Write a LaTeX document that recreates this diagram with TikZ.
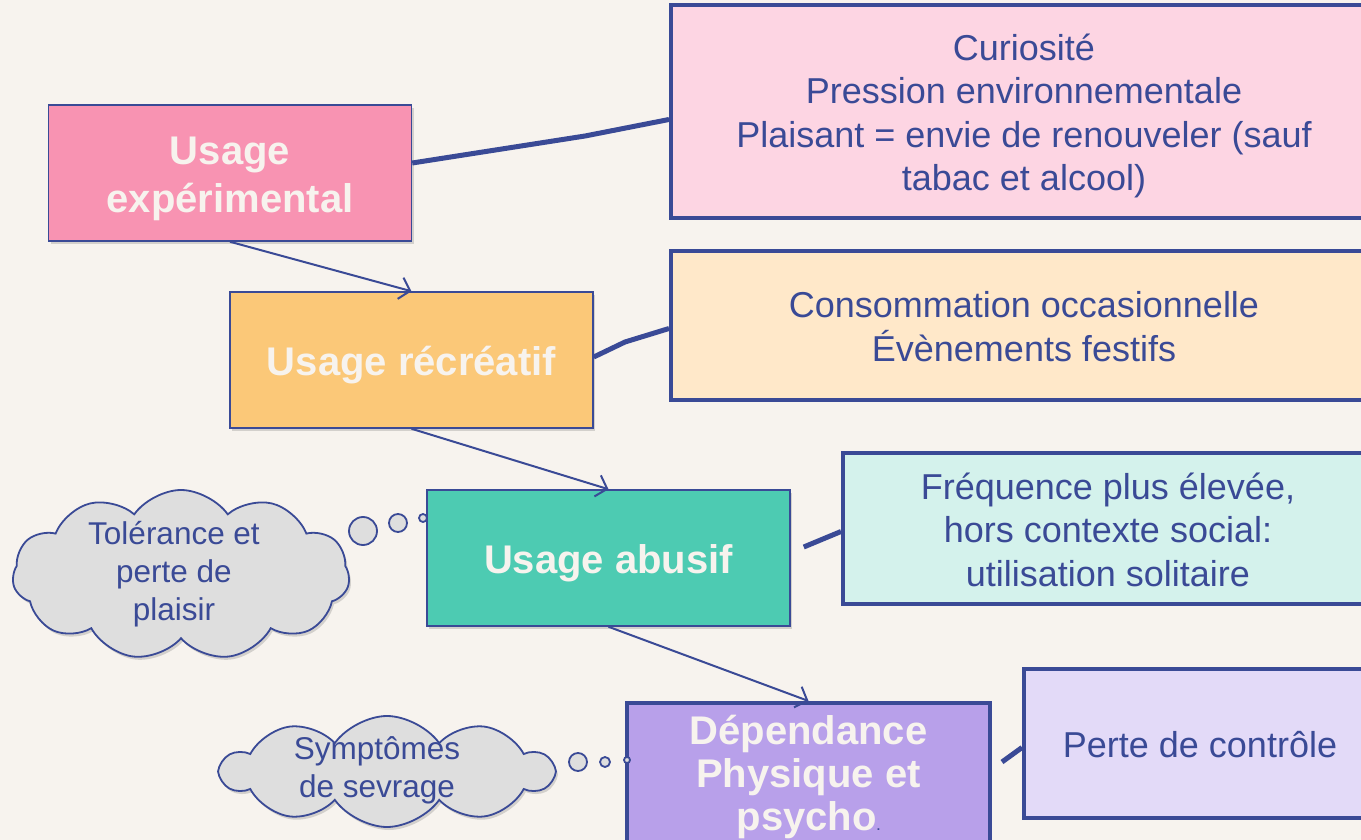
\documentclass[tikz,border=0pt]{standalone}
\usepackage{fontspec}
\setmainfont{Liberation Sans}
\usetikzlibrary{shapes.symbols,arrows.meta,shadows}

\definecolor{bgcol}{HTML}{F7F3EE}
\definecolor{ink}{HTML}{3A4A96}
\definecolor{pinkbox}{HTML}{F893B2}
\definecolor{pinknote}{HTML}{FDD5E3}
\definecolor{orangebox}{HTML}{FBC878}
\definecolor{orangenote}{HTML}{FFE8C9}
\definecolor{tealbox}{HTML}{4DCBB2}
\definecolor{tealnote}{HTML}{D4F2EC}
\definecolor{purplebox}{HTML}{B8A0EA}
\definecolor{purplenote}{HTML}{E3DAF8}
\definecolor{cloudgray}{HTML}{DEDEDE}

% lines of a box, set a little low as in a slide
\newcommand{\boxlines}[1]{\raisebox{0pt}[\dimexpr\height+11pt\relax][\depth]{%
	\begin{tabular}{@{}c@{}}#1\end{tabular}}}
% lines of a cloud, taking no room so the cloud keeps its own size
\newcommand{\cloudlines}[2][0pt]{\raisebox{-6pt}[0pt][0pt]{\makebox[0pt]{%
	\hspace*{#1}\begin{tabular}{@{}c@{}}#2\end{tabular}}}}

\begin{document}
\begin{tikzpicture}
	[x=1pt, y=-1pt,
	stagebox/.style={draw=ink, line width=1.5pt, rectangle, inner sep=0pt,
		minimum width=363pt, minimum height=136pt, text=bgcol,
		font=\bfseries\fontsize{40}{48}\selectfont,
		drop shadow={opacity=0.3, shadow xshift=2pt, shadow yshift=-3pt}},
	notebox/.style={draw=ink, line width=4pt, rectangle, inner sep=0pt,
		text=ink, font=\fontsize{36}{43.5}\selectfont},
	thought/.style={cloud, cloud puffs=11, cloud puff arc=110, cloud ignores aspect,
		draw=ink, line width=1.8pt, fill=cloudgray, text=ink, inner sep=0pt,
		font=\fontsize{31.5}{37.8}\selectfont,
		drop shadow={opacity=0.3, shadow xshift=2pt, shadow yshift=-3pt}},
	bubble/.style={draw=ink, line width=1.8pt, fill=cloudgray, circle, inner sep=0pt},
	link/.style={draw=ink, line width=5pt},
	step arrow/.style={draw=ink, line width=2pt, -{Straight Barb[length=10pt, width=22pt, line width=2pt]}}]

	\useasboundingbox[fill=bgcol] (0,0) rectangle (1361,840);

	% stages
	\node [stagebox, fill=pinkbox] (exp) at (230,173) {\boxlines{Usage\\expérimental}};
	\node [stagebox, fill=orangebox] (rec) at (411.5,360) {\boxlines{Usage récréatif}};
	\node [stagebox, fill=tealbox] (abu) at (608.5,558) {\boxlines{Usage abusif}};
	\node [stagebox, fill=purplebox, line width=4pt, font=\bfseries\fontsize{40}{43}\selectfont] (dep) at (808.5,773)
		{\boxlines{Dépendance\\Physique et\\psycho{\color{ink}\fontsize{12}{12}\selectfont.}}};

	% notes
	\node [notebox, fill=pinknote, minimum width=706pt, minimum height=213pt] (curio) at (1024,111.5)
		{\boxlines{Curiosité\\Pression environnementale\\Plaisant = envie de renouveler (sauf\\tabac et alcool)}};
	\node [notebox, fill=orangenote, minimum width=706pt, minimum height=149pt] (occas) at (1024,325.5)
		{\boxlines{Consommation occasionnelle\\Évènements festifs}};
	\node [notebox, fill=tealnote, minimum width=530pt, minimum height=151pt] (freq) at (1108,528.5)
		{\boxlines{Fréquence plus élevée,\\hors contexte social:\\utilisation solitaire}};
	\node [notebox, fill=purplenote, minimum width=352pt, minimum height=149pt] (perte) at (1200,743.5)
		{\boxlines{Perte de contrôle}};

	% clouds
	\node [thought, minimum width=337pt, minimum height=170pt] (tol) at (181,575)
		{\cloudlines[-14pt]{Tolérance et\\perte de\\plaisir}};
	\node [bubble, minimum size=28pt] (tolA) at (363,531) {};
	\node [bubble, minimum size=18pt] (tolB) at (398,523) {};
	\node [bubble, minimum size=8pt] (tolC) at (423,518) {};
	\node [thought, cloud puffs=10, minimum width=331pt, minimum height=111pt] (sev) at (387,771.5)
		{\cloudlines[-20pt]{Symptômes\\de sevrage}};
	\node [bubble, minimum size=18pt] (sevA) at (578,762) {};
	\node [bubble, minimum size=10pt] (sevB) at (605,762) {};
	\node [bubble, minimum size=6pt] (sevC) at (627,760) {};

	% links
	\draw [link] ([yshift=10pt]exp.east) -- (585,136) -- ([yshift=-8pt]curio.west);
	\draw [link] ([yshift=3pt]rec.east) -- (625,342) -- ([yshift=-3pt]occas.west);
	\draw [link] ([xshift=13pt, yshift=11pt]abu.east) -- ([yshift=-3pt]freq.west);
	\draw [link] ([xshift=10pt, yshift=11pt]dep.east) -- ([yshift=-4pt]perte.west);

	% steps
	\draw [step arrow] (exp.south) -- (rec.north);
	\draw [step arrow] (rec.south) -- (abu.north);
	\draw [step arrow] (abu.south) -- (dep.north);
\end{tikzpicture}
\end{document}
